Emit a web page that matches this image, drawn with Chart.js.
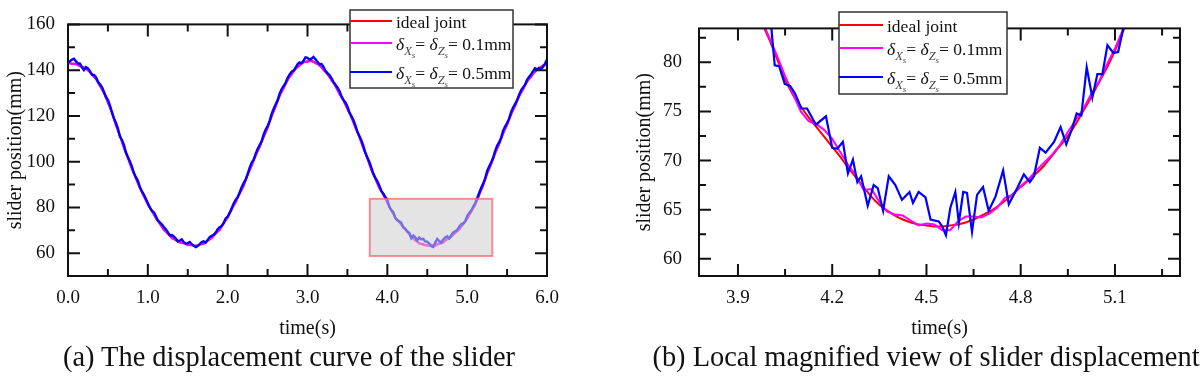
<!DOCTYPE html>
<html><head><meta charset="utf-8">
<script src="https://cdn.jsdelivr.net/npm/chart.js@4.4.1/dist/chart.umd.min.js"></script>
<style>
html,body{margin:0;padding:0;background:#fff;}
#wrap{position:relative;width:1200px;height:379px;overflow:hidden;background:#fff;}
#cA{position:absolute;left:0;top:0;}
#cB{position:absolute;left:580px;top:0;}
.cap{position:absolute;top:342px;font-family:"Liberation Serif","Times New Roman",serif;font-size:28.4px;color:#111;white-space:nowrap;transform:translateX(-50%);line-height:30px;}
</style></head>
<body><div id="wrap">
<canvas id="cA" width="580" height="379"></canvas>
<canvas id="cB" width="620" height="379"></canvas>
<div class="cap" style="left:289px">(a) The displacement curve of the slider</div>
<div class="cap" style="left:926px">(b) Local magnified view of slider displacement</div>
</div>
<script>
// ---------- (a) full curve, 0.05 s sampling ----------
const timeA = [0,0.05,0.1,0.15,0.2,0.25,0.3,0.35,0.4,0.45,0.5,0.55,0.6,0.65,0.7,0.75,0.8,0.85,0.9,0.95,
1,1.05,1.1,1.15,1.2,1.25,1.3,1.35,1.4,1.45,1.5,1.55,1.6,1.65,1.7,1.75,1.8,1.85,1.9,1.95,
2,2.05,2.1,2.15,2.2,2.25,2.3,2.35,2.4,2.45,2.5,2.55,2.6,2.65,2.7,2.75,2.8,2.85,2.9,2.95,
3,3.05,3.1,3.15,3.2,3.25,3.3,3.35,3.4,3.45,3.5,3.55,3.6,3.65,3.7,3.75,3.8,3.85,3.9,3.95,
4,4.05,4.1,4.15,4.2,4.25,4.3,4.35,4.4,4.45,4.5,4.55,4.6,4.65,4.7,4.75,4.8,4.85,4.9,4.95,
5,5.05,5.1,5.15,5.2,5.25,5.3,5.35,5.4,5.45,5.5,5.55,5.6,5.65,5.7,5.75,5.8,5.85,5.9,5.95,6];
const idealA = [143.0,142.9,142.6,142.0,141.2,139.9,138.3,136.0,133.3,129.9,
126.0,121.2,116.2,111.2,106.2,101.5,97.0,92.7,88.6,84.8,
81.4,78.3,75.5,72.8,70.4,68.4,66.8,65.6,64.8,64.2,
63.8,63.4,63.3,63.6,64.3,65.3,66.8,68.4,70.4,72.9,
75.8,79.0,82.4,85.9,89.6,94.0,98.4,102.4,106.5,110.6,
114.9,119.6,124.2,128.5,132.3,135.5,138.3,140.5,142.2,143.3,
143.9,143.9,143.3,142.0,140.3,138.2,135.8,133.0,129.8,126.6,
123.2,119.3,115.1,110.6,106.0,101.3,96.6,92.4,88.6,85.4,
82.2,78.6,75.6,73.4,71.4,69.3,67.2,65.5,64.4,63.7,
63.4,63.3,63.5,64.1,64.8,66.0,67.3,68.7,70.5,72.5,
75.1,78.0,81.2,85.3,89.8,94.6,99.0,103.5,107.8,112.1,
116.3,120.5,124.5,128.3,131.8,134.8,137.3,139.3,140.8,141.9,142.7];
const gap01A = [143.2,142.7,142.8,141.7,141.0,140.2,138.0,136.3,133.0,130.3,
125.7,121.6,115.8,111.6,105.9,101.9,96.7,93.1,88.3,85.1,
81.1,78.7,75.2,73.2,70.1,68.8,66.5,66.0,64.5,64.5,
63.5,63.7,62.9,63.9,64.0,65.7,66.5,68.9,70.1,73.4,
75.5,79.5,82.1,86.4,89.3,94.5,98.1,102.9,106.2,111.1,
114.6,120.1,123.9,129.0,132.0,136.0,138.0,141.0,141.9,143.7,
143.6,144.3,143.0,142.4,140.0,138.6,135.5,133.4,129.5,127.0,
122.9,119.7,114.8,111.0,105.7,101.7,96.3,92.8,88.3,85.8,
81.9,78.9,75.3,73.8,71.1,69.7,66.9,65.9,64.1,64.1,
63.1,63.6,63.2,64.4,64.5,66.4,67.0,69.1,70.2,72.9,
74.8,78.4,80.9,85.7,89.5,95.0,98.7,103.9,107.5,112.5,
116.0,120.9,124.2,128.7,131.5,135.2,137.0,139.7,140.5,142.2,142.4];
// 0.5 mm clearance, sampled every 0.025 s
const time05A = [
0,0.025,0.05,0.075,0.1,0.125,0.15,0.175,0.2,0.225,0.25,0.275,0.3,0.325,0.35,0.375,0.4,0.425,0.45,0.475,
0.5,0.525,0.55,0.575,0.6,0.625,0.65,0.675,0.7,0.725,0.75,0.775,0.8,0.825,0.85,0.875,0.9,0.925,0.95,0.975,
1,1.025,1.05,1.075,1.1,1.125,1.15,1.175,1.2,1.225,1.25,1.275,1.3,1.325,1.35,1.375,1.4,1.425,1.45,1.475,
1.5,1.525,1.55,1.575,1.6,1.625,1.65,1.675,1.7,1.725,1.75,1.775,1.8,1.825,1.85,1.875,1.9,1.925,1.95,1.975,
2,2.025,2.05,2.075,2.1,2.125,2.15,2.175,2.2,2.225,2.25,2.275,2.3,2.325,2.35,2.375,2.4,2.425,2.45,2.475,
2.5,2.525,2.55,2.575,2.6,2.625,2.65,2.675,2.7,2.725,2.75,2.775,2.8,2.825,2.85,2.875,2.9,2.925,2.95,2.975,
3,3.025,3.05,3.075,3.1,3.125,3.15,3.175,3.2,3.225,3.25,3.275,3.3,3.325,3.35,3.375,3.4,3.425,3.45,3.475,
3.5,3.525,3.55,3.575,3.6,3.625,3.65,3.675,3.7,3.725,3.75,3.775,3.8,3.825,3.85,3.875,3.9,3.925,3.95,3.975,
4,4.025,4.05,4.075,4.1,4.125,4.15,4.175,4.2,4.225,4.25,4.275,4.3,4.325,4.35,4.375,4.4,4.425,4.45,4.475,
4.5,4.525,4.55,4.575,4.6,4.625,4.65,4.675,4.7,4.725,4.75,4.775,4.8,4.825,4.85,4.875,4.9,4.925,4.95,4.975,
5,5.025,5.05,5.075,5.1,5.125,5.15,5.175,5.2,5.225,5.25,5.275,5.3,5.325,5.35,5.375,5.4,5.425,5.45,5.475,
5.5,5.525,5.55,5.575,5.6,5.625,5.65,5.675,5.7,5.725,5.75,5.775,5.8,5.825,5.85,5.875,5.9,5.925,5.95,5.975,6];
const gap05A = [
143.4,143.9,144.6,145.0,143.8,143.0,142.9,141.2,140.0,141.3,140.8,139.6,138.0,137.9,136.9,135.0,133.8,132.6,130.6,128.4,
126.9,124.6,121.8,119.0,117.0,114.6,111.0,109.6,107.4,104.1,102.0,100.2,97.9,95.1,93.2,91.6,89.0,87.1,85.6,83.8,
81.9,80.0,78.6,77.9,76.2,74.3,73.5,72.6,71.4,70.4,69.2,67.8,67.9,67.3,66.4,65.2,65.5,66.0,64.8,64.2,
64.4,64.9,63.9,63.2,62.6,63.1,64.0,64.9,65.2,64.6,65.8,67.0,67.6,68.0,69.0,70.4,71.3,71.9,73.2,75.2,
76.0,77.6,79.6,81.7,83.3,84.5,86.5,88.8,90.6,92.2,94.5,97.3,99.5,100.9,103.4,105.5,107.2,108.9,111.8,113.9,
115.6,117.7,120.8,123.0,125.0,126.8,129.6,131.6,133.0,134.4,136.6,138.0,139.2,139.8,141.0,142.6,143.4,143.0,144.1,145.6,
145.4,144.6,145.0,145.8,144.8,143.6,142.6,142.7,141.4,139.7,138.7,137.9,136.5,134.9,133.6,132.4,130.9,128.7,127.0,125.9,
124.1,121.6,119.9,118.2,115.9,113.1,111.2,109.3,106.9,103.9,101.8,99.9,97.4,94.7,92.9,91.4,89.5,87.2,86.0,84.5,
83.4,80.2,78.8,77.9,75.3,74.4,73.9,73.3,71.3,70.6,69.4,68.9,66.5,67.7,66.9,65.6,66.8,66.0,66.2,65.1,
65.0,64.2,63.0,62.7,64.6,66.2,65.3,64.5,66.0,66.9,67.4,66.4,67.9,69.1,69.6,70.1,71.6,72.6,73.0,73.9,
76.2,77.6,78.6,80.3,81.9,84.0,86.3,88.5,90.4,92.6,95.8,97.9,99.6,101.7,104.6,106.9,108.4,110.4,113.5,115.3,
116.9,118.8,121.6,123.6,125.1,126.9,129.2,131.2,132.4,133.6,135.8,137.0,138.1,139.6,140.9,140.3,141.0,140.6,141.4,142.9,144.6];

// ---------- (b) magnified window ----------
const timeB = [3.95,3.975,4,4.025,4.05,4.075,4.1,4.125,4.15,4.175,4.2,4.225,4.25,4.275,4.3,4.325,4.35,4.375,4.4,4.425,
4.45,4.475,4.5,4.525,4.55,4.575,4.6,4.625,4.65,4.675,4.7,4.725,4.75,4.775,4.8,4.825,4.85,4.875,4.9,4.925,
4.95,4.975,5,5.025,5.05,5.075,5.1,5.125,5.15];
const idealB = [86.0,84.1,82.3,80.3,78.3,76.7,75.5,74.4,73.4,72.4,71.4,70.4,69.3,68.3,67.3,66.3,65.5,64.9,64.4,64.0,
63.7,63.5,63.4,63.3,63.3,63.4,63.5,63.7,64.0,64.4,64.8,65.3,65.9,66.6,67.3,68.0,68.7,69.5,70.5,71.5,
72.5,73.7,75.1,76.5,78.0,79.5,81.2,83.1,85.1];
const gap01B = [86.3,84.3,82.5,80.6,78.6,76.8,75.0,74.0,73.7,73.1,72.2,70.9,69.6,68.5,67.0,67.1,65.8,64.8,64.5,64.4,
63.9,63.4,63.6,63.5,62.9,62.9,63.8,64.3,64.3,64.2,64.6,65.2,66.2,66.5,67.4,68.1,69.0,69.8,70.6,71.6,
72.9,74.1,75.3,76.8,78.1,79.8,81.4,83.3,85.3];
const time05B = [3.985,4.002,4.017,4.031,4.049,4.066,4.082,4.102,4.120,4.148,4.180,4.200,4.216,4.234,4.250,
4.266,4.280,4.292,4.313,4.332,4.345,4.362,4.380,4.401,4.422,4.446,4.457,4.475,4.497,4.513,
4.539,4.550,4.562,4.576,4.592,4.603,4.617,4.629,4.645,4.661,4.680,4.698,4.720,4.744,4.762,
4.789,4.810,4.829,4.842,4.861,4.879,4.906,4.927,4.945,4.964,4.978,4.993,5.010,5.028,5.044,
5.060,5.076,5.095,5.110,5.127,5.145];
const gap05B = [86.5,85.0,79.7,79.6,77.8,77.6,76.8,75.3,75.3,73.65,74.5,71.3,71.2,71.9,68.7,
70.1,67.8,68.4,65.4,67.5,67.2,64.9,68.4,67.5,66.0,66.8,65.7,66.8,66.25,64.0,
63.8,63.3,62.4,65.2,66.8,63.65,66.8,66.7,62.75,66.5,67.3,64.9,66.35,69.0,65.55,
67.2,68.6,67.8,68.4,71.3,70.8,71.9,73.4,71.65,73.3,74.8,74.6,79.5,76.4,78.8,
78.8,81.75,80.95,81.05,83.5,85.8];

// ---------- ticks ----------
const xTicksA = [0,1,2,3,4,5,6];
const xTickLabelsA = ['0.0','1.0','2.0','3.0','4.0','5.0','6.0'];
const xMinorA = [0.5,1.5,2.5,3.5,4.5,5.5];
const yTicksA = [60,80,100,120,140,160];
const yTickLabelsA = ['60','80','100','120','140','160'];
const yMinorA = [70,90,110,130,150];
const xTicksB = [3.9,4.2,4.5,4.8,5.1];
const xTickLabelsB = ['3.9','4.2','4.5','4.8','5.1'];
const xMinorB = [4.05,4.35,4.65,4.95,5.25];
const yTicksB = [60,65,70,75,80];
const yTickLabelsB = ['60','65','70','75','80'];
const yMinorB = [62.5,67.5,72.5,77.5,82.5];
const zoomBox = [3.78, 5.315, 58.75, 83.75];   // t0, t1, y0, y1 of the magnified window

const seriesNames = ['ideal joint','δXs= δZs= 0.1mm','δXs= δZs= 0.5mm'];
const legendRows = [
  [['ideal joint','n']],
  [['δ','i'],['X','sub'],['s','ss'],['= ','n'],['δ','i'],['Z','sub'],['s','ss'],['= 0.1mm','n']],
  [['δ','i'],['X','sub'],['s','ss'],['= ','n'],['δ','i'],['Z','sub'],['s','ss'],['= 0.5mm','n']]
];
const colors = ['#ff0000','#ff00ff','#0000ff'];

const SERIF = "'Liberation Serif','Times New Roman',serif";

function pts(xs, ys){ return xs.map((t,i)=>({x:t, y:ys[i]})); }

function drawLegend(ctx, chart, L){
  ctx.save();
  ctx.fillStyle = '#fff';
  ctx.fillRect(L.x, L.y, L.w, L.h);
  ctx.strokeStyle = '#333'; ctx.lineWidth = 1.5;
  ctx.strokeRect(L.x, L.y, L.w, L.h);
  const fonts = {
    n: {f:'17.5px '+SERIF, dy:0, c:'#111'},
    i: {f:'italic 17.5px '+SERIF, dy:0, c:'#111'},
    sub: {f:'italic 12.5px '+SERIF, dy:5, c:'#444'},
    ss: {f:'italic 9px '+SERIF, dy:8, c:'#555'}
  };
  legendRows.forEach((row, r) => {
    const ly = L.rows[r];
    ctx.strokeStyle = chart.data.datasets[r].borderColor;
    ctx.lineWidth = 2;
    ctx.beginPath(); ctx.moveTo(L.x, ly); ctx.lineTo(L.x + L.lineLen, ly); ctx.stroke();
    let x = L.textX;
    const base = ly + 6.5;
    ctx.textBaseline = 'alphabetic'; ctx.textAlign = 'left';
    row.forEach(([txt, k]) => {
      const s = fonts[k];
      ctx.font = s.f; ctx.fillStyle = s.c;
      ctx.fillText(txt, x, base + s.dy);
      x += ctx.measureText(txt).width;
    });
  });
  ctx.restore();
}

const framePlugin = {
  id: 'frame',
  afterDatasetsDraw(chart, args, o){
    const {ctx, chartArea: a} = chart;
    const xs = chart.scales.x, ys = chart.scales.y;
    ctx.save();
    if (o.box){
      const x0 = xs.getPixelForValue(o.box[0]), x1 = xs.getPixelForValue(o.box[1]);
      const y0 = ys.getPixelForValue(o.box[3]), y1 = ys.getPixelForValue(o.box[2]);
      ctx.fillStyle = 'rgba(205,205,205,0.55)';
      ctx.fillRect(x0, y0, x1 - x0, y1 - y0);
      ctx.strokeStyle = 'rgba(240,110,110,0.75)'; ctx.lineWidth = 2;
      ctx.strokeRect(x0, y0, x1 - x0, y1 - y0);
    }
    ctx.strokeStyle = '#111'; ctx.lineWidth = 2;
    ctx.beginPath();
    const tx = (v, len) => { const p = xs.getPixelForValue(v); ctx.moveTo(p, a.bottom); ctx.lineTo(p, a.bottom - len); ctx.moveTo(p, a.top); ctx.lineTo(p, a.top + len); };
    const ty = (v, len) => { const p = ys.getPixelForValue(v); ctx.moveTo(a.left, p); ctx.lineTo(a.left + len, p); ctx.moveTo(a.right, p); ctx.lineTo(a.right - len, p); };
    o.xMajor.forEach(v => tx(v, 12)); o.xMinor.forEach(v => tx(v, 7));
    o.yMajor.forEach(v => ty(v, 12)); o.yMinor.forEach(v => ty(v, 7));
    ctx.stroke();
    ctx.strokeRect(a.left, a.top, a.right - a.left, a.bottom - a.top);
    ctx.restore();
    drawLegend(ctx, chart, o.legend);
  }
};

function makeChart(id, cfg){
  const ds = [
    {label: seriesNames[0], data: pts(cfg.tIdeal, cfg.ideal), borderColor: colors[0], borderWidth: 2, tension: 0.3, order: 3},
    {label: seriesNames[1], data: pts(cfg.t01, cfg.g01), borderColor: colors[1], borderWidth: 2, tension: 0, order: 2},
    {label: seriesNames[2], data: pts(cfg.t05, cfg.g05), borderColor: colors[2], borderWidth: cfg.blueW, tension: 0, order: 1}
  ];
  return new Chart(document.getElementById(id), {
    type: 'line',
    data: {datasets: ds},
    options: {
      responsive: false, animation: false, devicePixelRatio: 1,
      elements: {point: {radius: 0}},
      layout: {padding: {left: cfg.padL, right: cfg.padR, top: 12, bottom: 0}},
      plugins: {legend: {display: false}, tooltip: {enabled: false},
        frame: {box: cfg.box, xMajor: cfg.xT, xMinor: cfg.xM, yMajor: cfg.yT, yMinor: cfg.yM, legend: cfg.legend}},
      scales: {
        x: {type: 'linear', min: cfg.xMin, max: cfg.xMax,
          grid: {display: false, drawTicks: false}, border: {display: false},
          afterBuildTicks: s => { s.ticks = cfg.xT.map(v => ({value: v})); },
          afterFit: s => { s.height = 103; },
          ticks: {autoSkip: false, maxRotation: 0, padding: 11, color: '#111',
            font: {family: SERIF, size: 19}, callback: (v, i) => cfg.xL[i]},
          title: {display: true, text: 'time(s)', color: '#111', font: {family: SERIF, size: 20}, padding: {top: 0, bottom: 38}}
        },
        y: {type: 'linear', min: cfg.yMin, max: cfg.yMax,
          grid: {display: false, drawTicks: false}, border: {display: false},
          afterBuildTicks: s => { s.ticks = cfg.yT.map(v => ({value: v})); },
          afterFit: s => { s.width = cfg.yW; },
          ticks: {autoSkip: false, padding: cfg.yPad, color: '#111',
            font: {family: SERIF, size: 19}, callback: (v, i) => cfg.yL[i]},
          title: {display: true, text: 'slider position(mm)', color: '#111', font: {family: SERIF, size: 20}, padding: {top: 4, bottom: 0}}
        }
      }
    },
    plugins: [framePlugin]
  });
}

makeChart('cA', {
  tIdeal: timeA, ideal: idealA, t01: timeA, g01: gap01A, t05: time05A, g05: gap05A, blueW: 2.4,
  xMin: 0, xMax: 6, yMin: 50, yMax: 160,
  xT: xTicksA, xL: xTickLabelsA, xM: xMinorA, yT: yTicksA, yL: yTickLabelsA, yM: yMinorA,
  padL: 0, padR: 33, yW: 68, yPad: 13, box: zoomBox,
  legend: {x: 350, y: 10, w: 163, h: 78, lineLen: 42, textX: 396, rows: [21, 43, 72]}
});
makeChart('cB', {
  tIdeal: timeB, ideal: idealB, t01: timeB, g01: gap01B, t05: time05B, g05: gap05B, blueW: 2.2,
  xMin: 3.776, xMax: 5.307, yMin: 58.25, yMax: 83.45,
  xT: xTicksB, xL: xTickLabelsB, xM: xMinorB, yT: yTicksB, yL: yTickLabelsB, yM: yMinorB,
  padL: 49, padR: 20, yW: 70, yPad: 17, box: null,
  legend: {x: 259, y: 12, w: 168, h: 82, lineLen: 44, textX: 307, rows: [25, 48, 77]}
});
</script>
</body></html>
